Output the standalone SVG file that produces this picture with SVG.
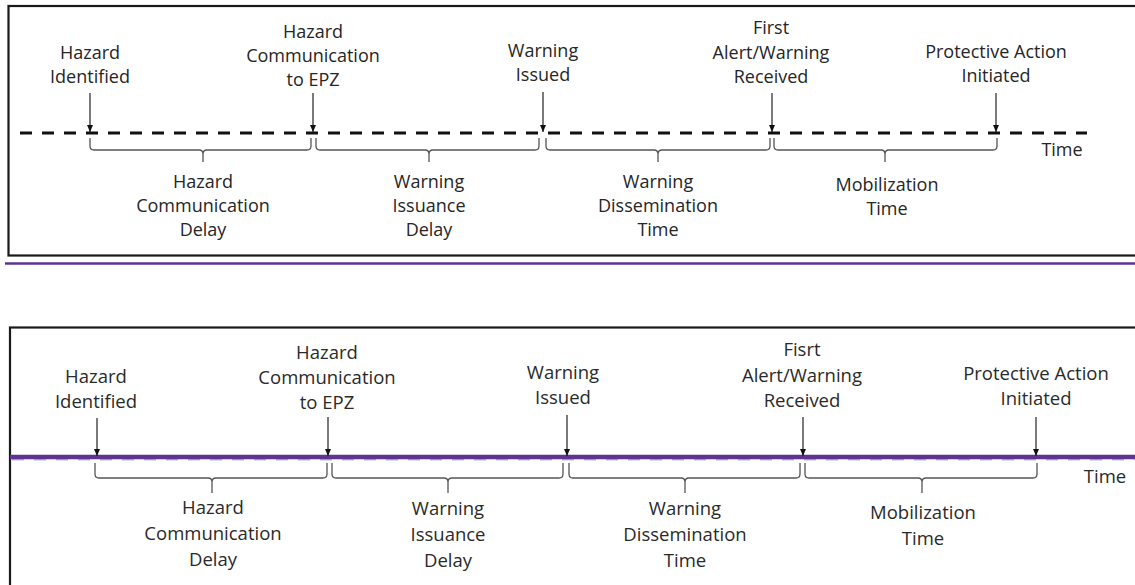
<svg xmlns="http://www.w3.org/2000/svg" width="1135" height="585" viewBox="0 0 1135 585">
<style>
  .t { font-family: "Open Sans", "Noto Sans", sans-serif; font-size: 18px; fill: #262626; text-anchor: middle; }
  .t2 { font-family: "Open Sans", "Noto Sans", sans-serif; font-size: 18.5px; fill: #2a2a2a; text-anchor: middle; }
  .frame { fill: none; stroke: #1a1a1a; stroke-width: 2.2; }
  .dash { stroke: #111; stroke-width: 3; stroke-dasharray: 12 10; fill: none; }
  .arrow { stroke: #222; stroke-width: 1.2; fill: none; marker-end: url(#ah); }
  .brace { stroke: #555; stroke-width: 1.3; fill: none; }
  .purple { stroke: #5E3393; fill: none; }
</style>
<defs>
  <marker id="ah" markerUnits="userSpaceOnUse" markerWidth="8" markerHeight="8" refX="7" refY="3" orient="auto">
    <path d="M0,0 L7,3 L0,6 Z" fill="#111"/>
  </marker>
</defs>
<rect width="1135" height="585" fill="#fff"/>

<!-- ===== Top panel ===== -->
<g id="top-panel">
  <rect class="frame" x="8.5" y="6" width="1140" height="249.5"/>
  <line class="purple" x1="5" y1="263.5" x2="1135" y2="263.5" stroke-width="2.5"/>
  <line class="dash" x1="20" y1="133" x2="1087" y2="133"/>
  <text class="t" x="1062" y="156">Time</text>
</g>

<g id="top-hazard-identified">
  <text class="t" x="90" y="59">Hazard</text>
  <text class="t" x="90" y="83">Identified</text>
</g>
<g id="top-hazard-comm-epz">
  <text class="t" x="313" y="38">Hazard</text>
  <text class="t" x="313" y="62">Communication</text>
  <text class="t" x="313" y="86">to EPZ</text>
</g>
<g id="top-warning-issued">
  <text class="t" x="543" y="57">Warning</text>
  <text class="t" x="543" y="81">Issued</text>
</g>
<g id="top-first-alert">
  <text class="t" x="771" y="34">First</text>
  <text class="t" x="771" y="59">Alert/Warning</text>
  <text class="t" x="771" y="83">Received</text>
</g>
<g id="top-protective-action">
  <text class="t" x="996" y="58">Protective Action</text>
  <text class="t" x="996" y="82">Initiated</text>
</g>

<g id="top-hazard-comm-delay">
  <path class="brace" d="M90,138 V146 Q90,150 94,150 H199 Q203,150 203,154 V162 M203,154 Q203,150 207,150 H307 Q311,150 311,146 V138"/>
  <text class="t" x="203" y="188">Hazard</text>
  <text class="t" x="203" y="212">Communication</text>
  <text class="t" x="203" y="236">Delay</text>
</g>
<g id="top-warning-issuance-delay">
  <path class="brace" d="M316,138 V146 Q316,150 320,150 H425 Q429,150 429,154 V162 M429,154 Q429,150 433,150 H535 Q539,150 539,146 V138"/>
  <text class="t" x="429" y="188">Warning</text>
  <text class="t" x="429" y="212">Issuance</text>
  <text class="t" x="429" y="236">Delay</text>
</g>
<g id="top-warning-dissemination">
  <path class="brace" d="M546,138 V146 Q546,150 550,150 H654 Q658,150 658,154 V162 M658,154 Q658,150 662,150 H766 Q770,150 770,146 V138"/>
  <text class="t" x="658" y="188">Warning</text>
  <text class="t" x="658" y="212">Dissemination</text>
  <text class="t" x="658" y="236">Time</text>
</g>
<g id="top-mobilization">
  <path class="brace" d="M774,138 V146 Q774,150 778,150 H881 Q885,150 885,154 V162 M885,154 Q885,150 889,150 H993 Q997,150 997,146 V138"/>
  <text class="t" x="887" y="191">Mobilization</text>
  <text class="t" x="887" y="215">Time</text>
</g>

<!-- ===== Bottom panel ===== -->
<g id="bottom-panel">
  <rect class="frame" x="10" y="327.5" width="1140" height="300"/>
  <line x1="12" y1="459.5" x2="1135" y2="459.5" stroke="#bbb" stroke-width="2" stroke-dasharray="12 10"/>
  <line class="purple" x1="10" y1="457" x2="1135" y2="457" stroke-width="4.5"/>
  <text class="t2" x="1105" y="483">Time</text>
</g>

<g id="bottom-hazard-identified">
  <text class="t2" x="96" y="383">Hazard</text>
  <text class="t2" x="96" y="408">Identified</text>
</g>
<g id="bottom-hazard-comm-epz">
  <text class="t2" x="327" y="359">Hazard</text>
  <text class="t2" x="327" y="384">Communication</text>
  <text class="t2" x="327" y="409">to EPZ</text>
</g>
<g id="bottom-warning-issued">
  <text class="t2" x="563" y="379">Warning</text>
  <text class="t2" x="563" y="404">Issued</text>
</g>
<g id="bottom-first-alert">
  <text class="t2" x="802" y="356">Fisrt</text>
  <text class="t2" x="802" y="382">Alert/Warning</text>
  <text class="t2" x="802" y="407">Received</text>
</g>
<g id="bottom-protective-action">
  <text class="t2" x="1036" y="380">Protective Action</text>
  <text class="t2" x="1036" y="405">Initiated</text>
</g>

<g id="bottom-hazard-comm-delay">
  <path class="brace" d="M95,463 V474 Q95,478 99,478 H208 Q212,478 212,482 V493 M212,482 Q212,478 216,478 H323 Q327,478 327,474 V463"/>
  <text class="t2" x="213" y="514">Hazard</text>
  <text class="t2" x="213" y="540">Communication</text>
  <text class="t2" x="213" y="566">Delay</text>
</g>
<g id="bottom-warning-issuance-delay">
  <path class="brace" d="M332,463 V474 Q332,478 336,478 H444 Q448,478 448,482 V493 M448,482 Q448,478 452,478 H559 Q563,478 563,474 V463"/>
  <text class="t2" x="448" y="515">Warning</text>
  <text class="t2" x="448" y="541">Issuance</text>
  <text class="t2" x="448" y="567">Delay</text>
</g>
<g id="bottom-warning-dissemination">
  <path class="brace" d="M569,463 V474 Q569,478 573,478 H681 Q685,478 685,482 V493 M685,482 Q685,478 689,478 H796 Q800,478 800,474 V463"/>
  <text class="t2" x="685" y="515">Warning</text>
  <text class="t2" x="685" y="541">Dissemination</text>
  <text class="t2" x="685" y="567">Time</text>
</g>
<g id="bottom-mobilization">
  <path class="brace" d="M805,463 V474 Q805,478 809,478 H918 Q922,478 922,482 V493 M922,482 Q922,478 926,478 H1033 Q1037,478 1037,474 V463"/>
  <text class="t2" x="923" y="519">Mobilization</text>
  <text class="t2" x="923" y="545">Time</text>
</g>

<!-- ===== Connectors ===== -->
<g id="connectors">
  <line class="arrow" x1="90" y1="93" x2="90" y2="132"/>
  <line class="arrow" x1="313" y1="93" x2="313" y2="132"/>
  <line class="arrow" x1="543" y1="92" x2="543" y2="132"/>
  <line class="arrow" x1="772" y1="93" x2="772" y2="132"/>
  <line class="arrow" x1="996" y1="93" x2="996" y2="132"/>

  <line class="arrow" x1="97" y1="418" x2="97" y2="456"/>
  <line class="arrow" x1="328" y1="417" x2="328" y2="456"/>
  <line class="arrow" x1="567" y1="415" x2="567" y2="456"/>
  <line class="arrow" x1="803" y1="417" x2="803" y2="456"/>
  <line class="arrow" x1="1036" y1="417" x2="1036" y2="456"/>
</g>
</svg>
